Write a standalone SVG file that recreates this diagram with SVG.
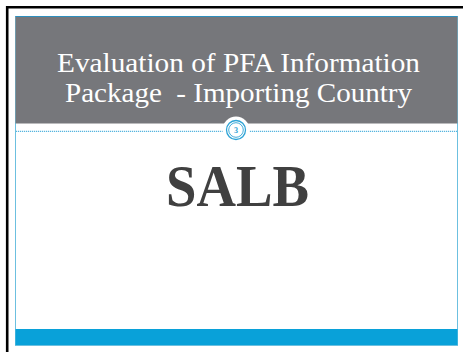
<svg xmlns="http://www.w3.org/2000/svg" width="463" height="352" viewBox="0 0 463 352">
<style>
.title{font-family:"Liberation Serif","DejaVu Serif",serif;font-size:28px;fill:#ffffff;text-anchor:middle;white-space:pre}
.big{font-family:"Liberation Serif","DejaVu Serif",serif;font-size:60px;font-weight:bold;fill:#404040;text-anchor:middle}
</style>
<rect x="0" y="0" width="463" height="352" fill="#ffffff"/>
<path d="M7.2 352 V7.2 H463" fill="none" stroke="#000000" stroke-width="2.6"/>
<g id="slide">
<rect x="15.5" y="16.5" width="442" height="329" fill="#ffffff" stroke="#6cc0e0" stroke-width="1"/>
<rect x="15.5" y="16.5" width="442" height="107" fill="#76777b"/>
<line x1="15.5" y1="16.5" x2="457.5" y2="16.5" stroke="#2e8fbe" stroke-width="1.2"/>
<rect x="15.5" y="329" width="442" height="16" fill="#09a1d9"/>
<line x1="16" y1="131.3" x2="457" y2="131.3" stroke="#2ea3d6" stroke-width="1" stroke-dasharray="1.2 0.8"/>
</g>
<g id="title">
<text class="title" x="238.5" y="72" textLength="363" lengthAdjust="spacingAndGlyphs">Evaluation of PFA Information</text>
<text class="title" x="238.5" y="101.5" textLength="347" lengthAdjust="spacingAndGlyphs" xml:space="preserve">Package  - Importing Country</text>
</g>
<g id="badge">
<circle cx="236" cy="130" r="13.5" fill="#ffffff"/>
<circle cx="236" cy="130" r="9.5" fill="#ffffff" stroke="#2ea3d6" stroke-width="1.3"/>
<circle cx="236" cy="130" r="7.3" fill="none" stroke="#2ea3d6" stroke-width="0.9"/>
<text x="236" y="132.8" font-family="Liberation Serif, serif" font-size="8" font-weight="bold" fill="#2ea3d6" text-anchor="middle">3</text>
</g>
<g id="heading">
<text class="big" x="237.5" y="205.5" textLength="143" lengthAdjust="spacingAndGlyphs">SALB</text>
</g>
</svg>
